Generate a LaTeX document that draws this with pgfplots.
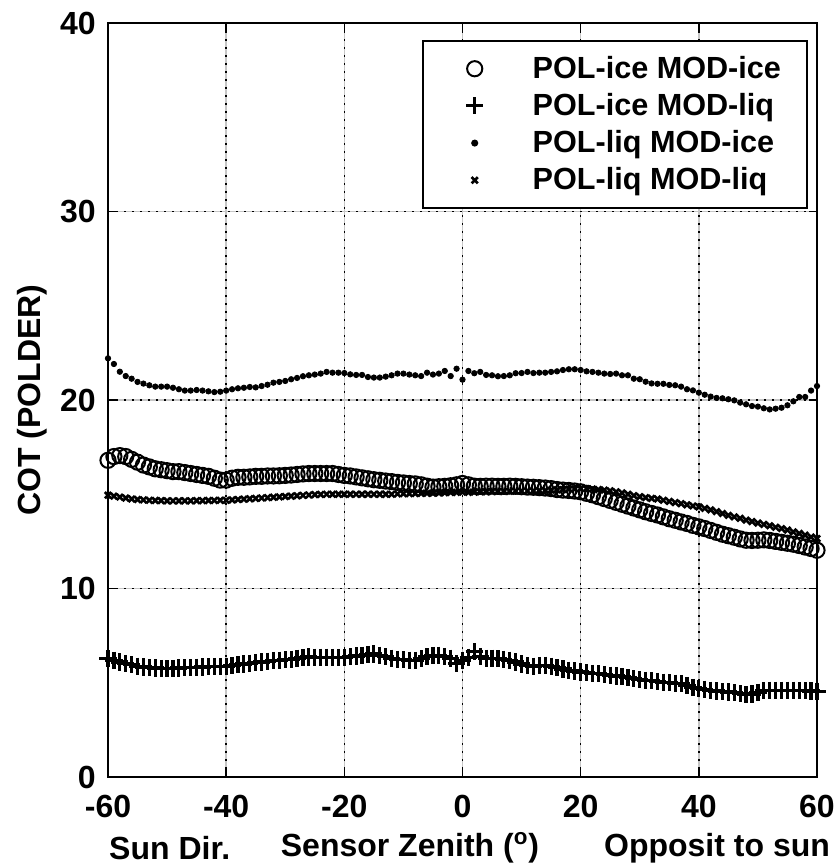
\documentclass[border=0pt]{standalone}
\usepackage{pgfplots}
\pgfplotsset{compat=1.18}
\usepackage{pgfplotstable}
\usepackage{fontspec}
\setmainfont{Liberation Sans}

% x = sensor zenith, ii = POL-ice MOD-ice, il = POL-ice MOD-liq,
% li = POL-liq MOD-ice, ll = POL-liq MOD-liq
\pgfplotstableread{
x ii il li ll
-60 16.80 6.28 22.21 14.95
-59 17.00 6.20 21.91 14.90
-58 17.05 6.10 21.50 14.85
-57 17.00 6.02 21.27 14.80
-56 16.85 5.95 21.13 14.75
-55 16.70 5.88 20.96 14.72
-54 16.55 5.84 20.87 14.70
-53 16.45 5.80 20.78 14.68
-52 16.35 5.78 20.71 14.67
-51 16.30 5.76 20.71 14.66
-50 16.25 5.75 20.71 14.65
-49 16.20 5.76 20.65 14.65
-48 16.20 5.78 20.57 14.65
-47 16.15 5.80 20.50 14.65
-46 16.10 5.80 20.50 14.65
-45 16.05 5.82 20.53 14.66
-44 16.00 5.84 20.50 14.66
-43 15.95 5.85 20.46 14.67
-42 15.85 5.86 20.42 14.67
-41 15.75 5.87 20.44 14.68
-40 15.75 5.88 20.50 14.68
-39 15.85 5.92 20.57 14.70
-38 15.90 5.96 20.62 14.72
-37 15.90 6.00 20.65 14.74
-36 15.92 6.04 20.69 14.76
-35 15.95 6.07 20.67 14.78
-34 15.95 6.10 20.74 14.80
-33 15.97 6.14 20.81 14.82
-32 15.97 6.18 20.92 14.84
-31 15.98 6.20 20.96 14.86
-30 16.00 6.22 21.01 14.88
-29 16.02 6.25 21.10 14.90
-28 16.05 6.30 21.17 14.92
-27 16.08 6.33 21.26 14.94
-26 16.10 6.37 21.31 14.96
-25 16.10 6.36 21.35 14.98
-24 16.10 6.35 21.40 14.99
-23 16.10 6.35 21.49 15.00
-22 16.10 6.34 21.45 15.00
-21 16.05 6.34 21.45 15.00
-20 16.00 6.34 21.43 15.00
-19 15.97 6.38 21.36 15.00
-18 15.92 6.42 21.33 15.00
-17 15.87 6.46 21.33 15.00
-16 15.82 6.50 21.22 15.00
-15 15.77 6.52 21.19 15.00
-14 15.74 6.46 21.19 15.00
-13 15.70 6.38 21.24 15.00
-12 15.67 6.30 21.31 15.00
-11 15.63 6.24 21.40 15.02
-10 15.60 6.22 21.40 15.03
-9 15.57 6.20 21.35 15.03
-8 15.55 6.19 21.31 15.04
-7 15.50 6.28 21.27 15.05
-6 15.43 6.38 21.45 15.05
-5 15.38 6.45 21.35 15.06
-4 15.40 6.46 21.40 15.07
-3 15.42 6.40 21.54 15.08
-2 15.45 6.30 21.27 15.10
-1 15.50 6.02 21.66 15.10
0 15.57 6.20 21.08 15.12
1 15.50 6.35 21.54 15.10
2 15.43 6.64 21.42 15.12
3 15.42 6.40 21.49 15.13
4 15.43 6.30 21.33 15.13
5 15.43 6.30 21.31 15.14
6 15.42 6.28 21.26 15.15
7 15.42 6.25 21.27 15.15
8 15.43 6.19 21.31 15.16
9 15.42 6.10 21.42 15.17
10 15.40 6.00 21.43 15.17
11 15.38 5.90 21.49 15.18
12 15.37 5.88 21.43 15.18
13 15.35 5.92 21.45 15.20
14 15.33 5.93 21.45 15.20
15 15.30 5.88 21.49 15.22
16 15.25 5.80 21.52 15.23
17 15.22 5.73 21.59 15.25
18 15.20 5.67 21.63 15.27
19 15.17 5.62 21.63 15.28
20 15.13 5.57 21.59 15.30
21 15.05 5.53 21.52 15.30
22 14.97 5.50 21.49 15.28
23 14.87 5.47 21.45 15.25
24 14.77 5.44 21.40 15.22
25 14.67 5.40 21.38 15.18
26 14.57 5.36 21.40 15.13
27 14.47 5.32 21.31 15.07
28 14.37 5.27 21.31 15.00
29 14.27 5.22 21.13 14.93
30 14.17 5.17 21.10 14.87
31 14.07 5.13 20.97 14.82
32 13.98 5.10 20.88 14.78
33 13.90 5.07 20.86 14.75
34 13.80 5.03 20.86 14.68
35 13.70 5.00 20.80 14.62
36 13.62 4.98 20.78 14.56
37 13.53 4.96 20.71 14.50
38 13.45 4.85 20.57 14.44
39 13.35 4.75 20.51 14.38
40 13.27 4.69 20.39 14.33
41 13.18 4.65 20.28 14.25
42 13.08 4.60 20.18 14.17
43 12.98 4.56 20.11 14.08
44 12.88 4.53 20.09 13.98
45 12.80 4.51 20.04 13.88
46 12.72 4.47 19.98 13.80
47 12.63 4.42 19.86 13.72
48 12.56 4.36 19.77 13.63
49 12.55 4.40 19.68 13.55
50 12.56 4.50 19.65 13.47
51 12.58 4.58 19.56 13.40
52 12.55 4.60 19.50 13.33
53 12.50 4.60 19.54 13.25
54 12.45 4.60 19.59 13.18
55 12.40 4.60 19.72 13.10
56 12.35 4.60 19.93 13.00
57 12.28 4.58 20.16 12.92
58 12.20 4.57 20.16 12.83
59 12.12 4.56 20.50 12.73
60 12.03 4.55 20.74 12.65
}\cotdata

\begin{document}
\begin{tikzpicture}
\path[use as bounding box] (-54pt,-45pt) rectangle (364.5pt,388.5pt);
\begin{axis}[
  at={(0,0)}, anchor=south west,
  scale only axis,
  width=354.5pt, height=377pt,
  xmin=-60, xmax=60, ymin=0, ymax=40,
  xtick={-60,-40,...,60},
  xticklabels={-60,-40,-20,0,20,40,60},
  ytick={0,10,...,40},
  yticklabels={0,10,20,30,40},
  tick label style={font=\fontsize{16}{18}\selectfont\bfseries, inner sep=1pt},
  xticklabel style={yshift=-8pt},
  yticklabel style={xshift=-5pt},
  tick align=inside,
  major tick length=4pt,
  tick style={black, line width=0.8pt},
  axis line style={line width=1pt},
  grid=major,
  grid style={gray!45, line width=0.8pt, postaction={draw, black, line width=0.8pt, dash pattern=on 0.8pt off 3.2pt}},
  clip=false,
  ylabel={COT (POLDER)},
  ylabel style={at={(axis description cs:-0.107,0.5)}, anchor=center, font=\fontsize{16}{18}\selectfont\bfseries},
  legend cell align=left,
  legend style={at={(0.987,0.977)}, anchor=north east, draw=black, line width=0.8pt,
    font=\fontsize{15.3}{18}\selectfont\bfseries, inner xsep=11pt, inner ysep=5.5pt,
    row sep=2pt, column sep=12pt},
  legend image code/.code={\path[draw=none, fill=none] (0pt,0pt) -- (30pt,0pt); \draw[#1] plot coordinates {(15pt,0pt)};},
]
\addplot[only marks, mark=o, mark size=3.8pt, mark options={line width=1pt}] table[x=x, y=ii] {\cotdata};
\addplot[only marks, mark=+, mark size=4.3pt, mark options={line width=1.6pt}] table[x=x, y=il] {\cotdata};
\addplot[only marks, mark=*, mark size=1.35pt] table[x=x, y=li] {\cotdata};
\addplot[only marks, mark=x, mark size=2.2pt, mark options={line width=1.3pt}] table[x=x, y=ll] {\cotdata};
\legend{POL-ice MOD-ice, POL-ice MOD-liq, POL-liq MOD-ice, POL-liq MOD-liq}
\node[font=\fontsize{16}{18}\selectfont\bfseries] at (axis description cs:0.087,-0.094) {Sun Dir.};
\node[font=\fontsize{16}{18}\selectfont\bfseries] at (axis description cs:0.426,-0.094) {Sensor Zenith (\textsuperscript{o})};
\node[font=\fontsize{16}{18}\selectfont\bfseries] at (axis description cs:0.859,-0.094) {Opposit to sun};
\end{axis}
\end{tikzpicture}
\end{document}
